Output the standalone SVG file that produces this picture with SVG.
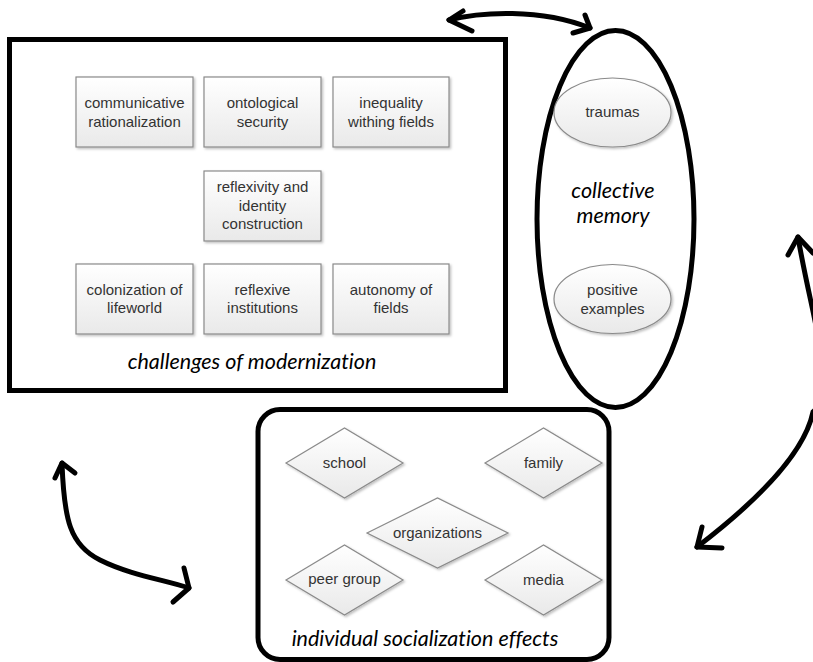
<svg xmlns="http://www.w3.org/2000/svg" width="813" height="662" viewBox="0 0 813 662">
<defs>
<linearGradient id="g" x1="0" y1="0" x2="0" y2="1">
<stop offset="0" stop-color="#ffffff"/>
<stop offset="1" stop-color="#e9e9e9"/>
</linearGradient>
<filter id="sh" x="-10%" y="-10%" width="130%" height="130%">
<feDropShadow dx="1.5" dy="1.5" stdDeviation="1" flood-color="#000" flood-opacity="0.25"/>
</filter>
<style>
.box{fill:url(#g);stroke:#8a8a8a;stroke-width:1.2;filter:url(#sh)}
.lbl{font-family:"Liberation Sans",Arial,sans-serif;font-size:15px;fill:#333;text-anchor:middle}
.big{fill:none;stroke:#000;stroke-width:5}
.ttl{font-family:Lato,"Open Sans",sans-serif;font-style:italic;font-size:21.5px;fill:#000;text-anchor:middle;font-variant-ligatures:none;font-feature-settings:"liga" 0,"clig" 0,"dlig" 0}
.arr{fill:none;stroke:#000;stroke-width:5;stroke-linecap:round;stroke-linejoin:round}
</style>
</defs>
<rect width="813" height="662" fill="#fff"/>

<g id="challenges">
<rect class="big" x="9.5" y="39.5" width="496" height="351"/>
<text class="ttl" x="252" y="369">challenges of modernization</text>
</g>
<g id="n-communicative">
<rect class="box" x="76" y="77" width="117" height="70"/>
<text class="lbl" x="134.5" y="108">communicative</text>
<text class="lbl" x="134.5" y="127">rationalization</text>
</g>
<g id="n-ontological">
<rect class="box" x="204" y="77" width="117" height="70"/>
<text class="lbl" x="262.5" y="108">ontological</text>
<text class="lbl" x="262.5" y="127">security</text>
</g>
<g id="n-inequality">
<rect class="box" x="333" y="77" width="116" height="70"/>
<text class="lbl" x="391" y="108">inequality</text>
<text class="lbl" x="391" y="127">withing fields</text>
</g>
<g id="n-reflexivity">
<rect class="box" x="204" y="171" width="117" height="70"/>
<text class="lbl" x="262.5" y="192">reflexivity and</text>
<text class="lbl" x="262.5" y="211">identity</text>
<text class="lbl" x="262.5" y="229">construction</text>
</g>
<g id="n-colonization">
<rect class="box" x="76" y="264" width="117" height="70"/>
<text class="lbl" x="134.5" y="295">colonization of</text>
<text class="lbl" x="134.5" y="313">lifeworld</text>
</g>
<g id="n-reflexive">
<rect class="box" x="204" y="264" width="117" height="70"/>
<text class="lbl" x="262.5" y="295">reflexive</text>
<text class="lbl" x="262.5" y="313">institutions</text>
</g>
<g id="n-autonomy">
<rect class="box" x="333" y="264" width="116" height="70"/>
<text class="lbl" x="391" y="295">autonomy of</text>
<text class="lbl" x="391" y="313">fields</text>
</g>

<g id="collective-memory">
<ellipse class="big" cx="615.5" cy="219" rx="78.5" ry="188.5"/>
<text class="ttl" x="613" y="198">collective</text>
<text class="ttl" x="613" y="223">memory</text>
</g>
<g id="n-traumas">
<ellipse class="box" cx="612.5" cy="112.5" rx="58.5" ry="34.5"/>
<text class="lbl" x="612.5" y="117">traumas</text>
</g>
<g id="n-positive">
<ellipse class="box" cx="612.5" cy="299" rx="58.5" ry="34.5"/>
<text class="lbl" x="612.5" y="295">positive</text>
<text class="lbl" x="612.5" y="314">examples</text>
</g>

<g id="socialization">
<rect class="big" x="258" y="409.5" width="351" height="250" rx="22" ry="22"/>
<text class="ttl" x="425" y="646">individual socialization effects</text>
</g>
<g id="n-school">
<polygon class="box" points="286,463 344.5,428 403,463 344.5,498"/>
<text class="lbl" x="344.5" y="468">school</text>
</g>
<g id="n-family">
<polygon class="box" points="485,463 543.5,428 602,463 543.5,498"/>
<text class="lbl" x="543.5" y="468">family</text>
</g>
<g id="n-organizations">
<polygon class="box" points="367,533 437.5,498 508,533 437.5,568"/>
<text class="lbl" x="437.5" y="538">organizations</text>
</g>
<g id="n-peer">
<polygon class="box" points="286,580 344.5,545 403,580 344.5,615"/>
<text class="lbl" x="344.5" y="584">peer group</text>
</g>
<g id="n-media">
<polygon class="box" points="485,580 543.5,545 602,580 543.5,615"/>
<text class="lbl" x="543.5" y="585">media</text>
</g>

<g id="connectors">
<path class="arr" d="M449,20 C480,12 540,8 590,28"/>
<path class="arr" d="M463,11 L449,20 L472,31"/>
<path class="arr" d="M585,15 L590,28 L573,33"/>
<path class="arr" d="M798,237 C812,320 838,390 813,412 C805,450 765,495 697,547"/>
<path class="arr" d="M788,255 L798,237 L813,253"/>
<path class="arr" d="M702,527 L697,547 L722,548"/>
<path class="arr" d="M62,463 C64,520 70,545 100,560 C130,575 165,580 189,588"/>
<path class="arr" d="M55,478 L62,463 L75,473"/>
<path class="arr" d="M184,568 L189,588 L173,602"/>
</g>
</svg>
